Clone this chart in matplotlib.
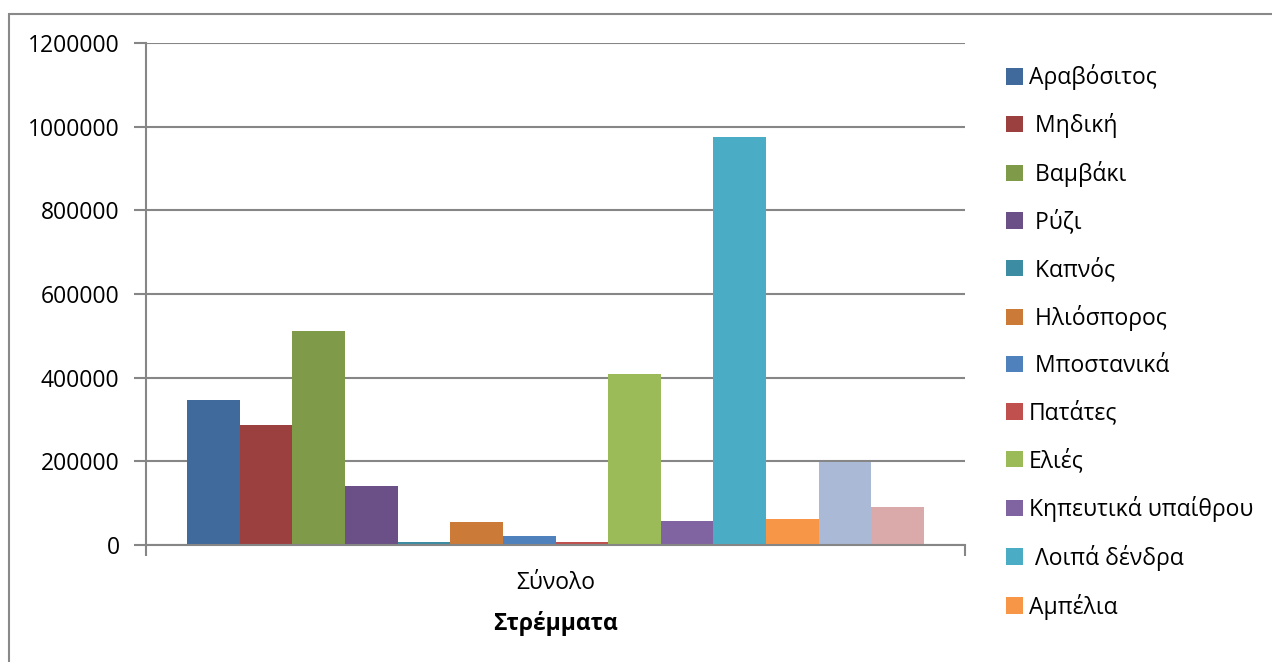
import matplotlib.pyplot as plt
from matplotlib.patches import Rectangle

plt.rcParams['font.family'] = ['Open Sans', 'DejaVu Sans']

crops = ['Αραβόσιτος', ' Μηδική', ' Βαμβάκι', ' Ρύζι', ' Καπνός', ' Ηλιόσπορος',
         ' Μποστανικά', 'Πατάτες', 'Ελιές', 'Κηπευτικά υπαίθρου', ' Λοιπά δένδρα',
         'Αμπέλια', 'Εσπεριδοειδή', 'Λοιπά']
stremmata = [346000, 287000, 511000, 141000, 7000, 55000, 21500, 7000,
             409000, 57000, 975000, 62000, 199000, 91000]
colors = ['#3F6A9B', '#9C403F', '#7F9A48', '#6A5087', '#3C8DA3', '#CB7A37',
          '#4F81BD', '#C0504D', '#9BBB59', '#8064A2', '#4BACC6', '#F79646',
          '#AAB9D6', '#D9AAA9']
category = 'Σύνολο'
axis_title = 'Στρέμματα'
n_legend = 12

fig = plt.figure(figsize=(12.72, 6.62), dpi=100)
ax = fig.add_axes([146 / 1272, 1 - 545 / 662, 819 / 1272, 502 / 662])

n = len(stremmata)
group = 0.9
w = group / n
x0 = 0.5 - group / 2
handles = []
for i in range(n):
    b = ax.bar(x0 + w * (i + 0.5), stremmata[i], width=w, color=colors[i],
               label=crops[i], zorder=3)
    handles.append(b)

ax.set_xlim(0, 1)
ax.set_ylim(0, 1200000)
ax.set_yticks(range(0, 1200001, 200000))
ax.ticklabel_format(axis='y', style='plain', useOffset=False)
ax.grid(axis='y', color='#868686', linewidth=1.5, zorder=0)
for s in ['top', 'right']:
    ax.spines[s].set_visible(False)
for s in ['left', 'bottom']:
    ax.spines[s].set_color('#868686')
    ax.spines[s].set_linewidth(1.5)
    ax.spines[s].set_zorder(4)
ax.tick_params(axis='y', length=9, width=1.5, color='#868686', labelsize=16.5, pad=10)
ax.set_xticks([0.5])
ax.set_xticklabels([category])
ax.set_xticks([0, 1], minor=True)
ax.tick_params(axis='x', which='major', length=0, labelsize=16.5, pad=19)
ax.tick_params(axis='x', which='minor', length=8, width=1.5, color='#868686')
ax.set_xlabel(axis_title, fontsize=16.5, fontweight='bold', labelpad=11)

fig.legend(handles[:n_legend], crops[:n_legend], loc='upper left',
           bbox_to_anchor=(997 / 1272, 1 - 55 / 662), frameon=False,
           fontsize=16.5, handlelength=0.75, handleheight=0.75, handletextpad=0.25,
           labelspacing=1.0, borderaxespad=0)

fig.patches.append(Rectangle((8.5 / 1272, -0.1), 2, 1 - 13.5 / 662 + 0.1,
                             transform=fig.transFigure, fill=False,
                             edgecolor='#898989', linewidth=1.5))

fig.savefig('out.png', dpi=100)
